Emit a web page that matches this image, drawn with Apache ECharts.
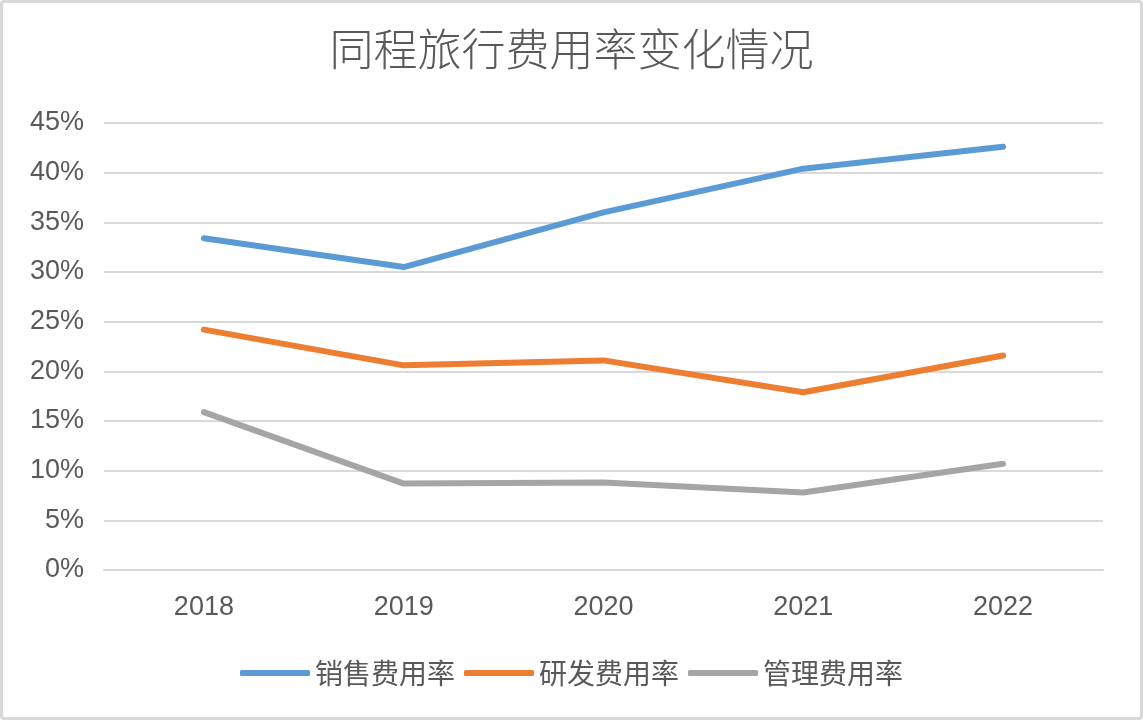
<!DOCTYPE html>
<html><head><meta charset="utf-8">
<script src="https://cdn.jsdelivr.net/npm/echarts@6/dist/echarts.min.js"></script>
<style>
html,body{margin:0;padding:0;background:#fff;}
#c{position:absolute;left:0;top:0;width:1137px;height:714px;border:3px solid #d9d9d9;border-radius:4px;}
</style></head>
<body><div id="c"></div>
<script>
const categories = ['2018','2019','2020','2021','2022'];
const salesRate = [33.4, 30.5, 36.0, 40.4, 42.6];
const rdRate = [24.2, 20.6, 21.1, 17.9, 21.6];
const adminRate = [15.9, 8.7, 8.8, 7.8, 10.7];
const seriesNames = ['销售费用率','研发费用率','管理费用率'];
const colors = ['#5B9BD5','#ED7D31','#A5A5A5'];
const font = '"Noto Sans CJK SC", "Liberation Sans", sans-serif';
const latin = '"Liberation Sans", Arial, sans-serif';
const chart = echarts.init(document.getElementById('c'));
const mk = (name, data, color) => ({
  name, type:'line', data, symbol:'none', smooth:false,
  lineStyle:{width:6, color, cap:'round', join:'round'}, itemStyle:{color}
});
chart.setOption({
  animation:false,
  title:{text:'同程旅行费用率变化情况', left:'center', top:19,
    textStyle:{fontSize:44, fontWeight:300, color:'#595959', fontFamily:font}},
  grid:{left:101, right:37, top:120, bottom:147},
  legend:{bottom:25, left:'center', itemWidth:70, itemHeight:6, itemGap:9,
    icon:'roundRect',
    textStyle:{fontSize:28, color:'#595959', fontFamily:font},
    data:seriesNames},
  xAxis:{type:'category', data:categories, boundaryGap:true,
    axisLine:{show:true, lineStyle:{color:'#d9d9d9', width:2}}, axisTick:{show:false},
    axisLabel:{fontSize:27, color:'#595959', margin:24, fontFamily:latin}},
  yAxis:{type:'value', min:0, max:45, interval:5,
    axisLine:{show:false}, axisTick:{show:false},
    splitLine:{lineStyle:{color:'#d9d9d9', width:2}},
    axisLabel:{fontSize:27, color:'#595959', margin:20, formatter:'{value}%', fontFamily:latin}},
  series:[mk(seriesNames[0], salesRate, colors[0]), mk(seriesNames[1], rdRate, colors[1]), mk(seriesNames[2], adminRate, colors[2])]
});
</script></body></html>
